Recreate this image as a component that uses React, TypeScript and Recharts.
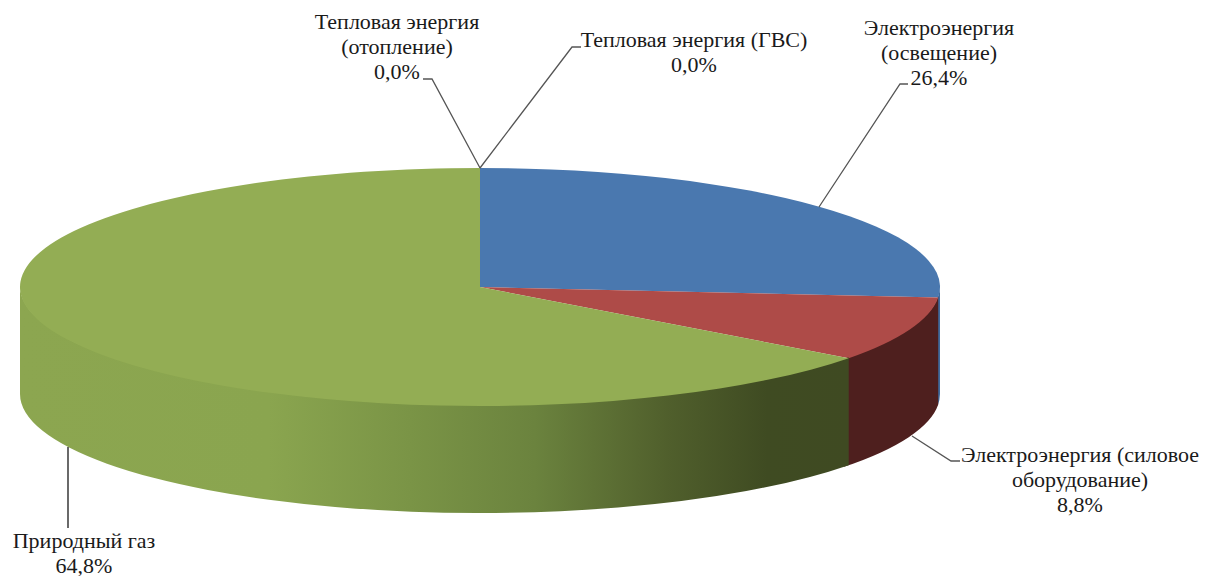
import { PieChart, Pie } from 'recharts';

const categories = [
  ['Электроэнергия', '(освещение)'],
  ['Электроэнергия (силовое', 'оборудование)'],
  ['Природный газ'],
  ['Тепловая энергия', '(отопление)'],
  ['Тепловая энергия (ГВС)'],
];
const shares = [26.4, 8.8, 64.8, 0, 0];
const topColors = ['#4a78af', '#ae4b48', '#93ad54', '#93ad54', '#4a78af'];
const wallColors = ['#3f6a9c', '#4e1f1e', 'url(#gasWall)', '#93ad54', '#4a78af'];

// label block centre, first line y, then the leader line points
const labelCenters = [939, 1080, 84, 397, 694];
const labelTops = [27, 454, 540, 21, 39];
const leaders = [
  [[819, 207], [900, 84], [908, 84]],
  [[912, 436], [951, 461], [960, 461]],
  [[68, 447], [68, 528]],
  [[480, 168], [432, 79], [423, 79]],
  [[480, 168], [572, 47], [581, 47]],
];

const data = categories.map((lines, i) => ({ name: lines.join(' '), value: shares[i], idx: i }));

const CX = 480;
const CY = 287;
const RX = 460;
const RY = 119;
const DEPTH = 107;
const LINE = 25;

const pt = (deg: number, dy = 0) => {
  const a = (deg * Math.PI) / 180;
  return `${CX + RX * Math.cos(a)} ${CY - RY * Math.sin(a) + dy}`;
};

// Recharts gives the angles, the slice is squashed to an ellipse and gets a side wall
function Slice3D(props: any) {
  const { startAngle, endAngle, payload } = props;
  if (startAngle === endAngle) return <g />;
  const i = payload.idx;
  const large = startAngle - endAngle > 180 ? 1 : 0;
  const from = Math.min(startAngle, 0);
  // walls run a little under the next slice and the top face so no seam shows
  const to = Math.max(endAngle - 1, -180);
  return (
    <g>
      {from > to && (
        <path
          d={`M ${pt(from, -1)} A ${RX} ${RY} 0 0 1 ${pt(to, -1)} L ${pt(to, DEPTH)} A ${RX} ${RY} 0 0 0 ${pt(from, DEPTH)} Z`}
          fill={wallColors[i]}
        />
      )}
      <path
        d={`M ${CX} ${CY} L ${pt(startAngle)} A ${RX} ${RY} 0 ${large} 1 ${pt(endAngle)} Z`}
        fill={topColors[i]}
      />
    </g>
  );
}

function SliceLabel(props: any) {
  const i = props.index;
  const lines = [...categories[i], shares[i].toFixed(1).replace('.', ',') + '%'];
  return (
    <g>
      <polyline
        points={leaders[i].map((p) => p.join(',')).join(' ')}
        fill="none"
        stroke={i === 2 ? '#1a1a1a' : '#555555'}
        strokeWidth={1.3}
      />
      {lines.map((line, n) => (
        <text
          key={n}
          x={labelCenters[i]}
          y={labelTops[i] + n * LINE}
          textAnchor="middle"
          dominantBaseline="central"
          fontFamily="'Liberation Serif', serif"
          fontSize={22}
          fill="#1a1a1a"
        >
          {line}
        </text>
      ))}
    </g>
  );
}

export default function App() {
  return (
    <div style={{ position: 'absolute', left: 0, top: 0, width: 1218, height: 576 }}>
      <PieChart width={1218} height={576} margin={{ top: 0, right: 0, bottom: 0, left: 0 }}>
        <defs>
          <linearGradient id="gasWall" gradientUnits="userSpaceOnUse" x1={20} y1={0} x2={850} y2={0}>
            <stop offset="0" stopColor="#8ca650" />
            <stop offset="0.3" stopColor="#8aa54f" />
            <stop offset="0.47" stopColor="#7a9446" />
            <stop offset="0.62" stopColor="#6b833e" />
            <stop offset="0.78" stopColor="#505f2c" />
            <stop offset="0.9" stopColor="#3f4b22" />
            <stop offset="1" stopColor="#3f4a22" />
          </linearGradient>
        </defs>
        <Pie
          data={data}
          dataKey="value"
          cx={CX}
          cy={CY}
          innerRadius={0}
          outerRadius={RX}
          startAngle={90}
          endAngle={-270}
          stroke="none"
          shape={Slice3D}
          label={SliceLabel}
          labelLine={false}
          isAnimationActive={false}
        />
      </PieChart>
    </div>
  );
}
